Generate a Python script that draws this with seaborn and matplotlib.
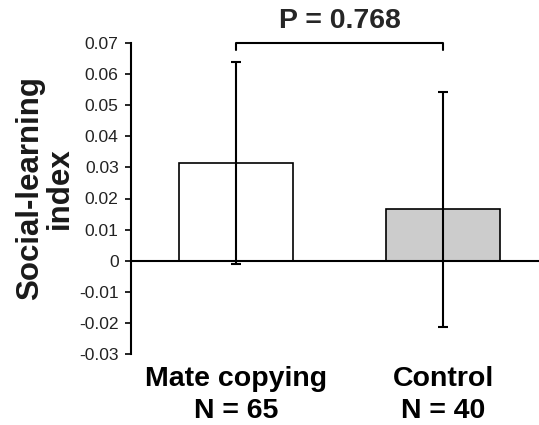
import matplotlib
matplotlib.use("Agg")
import matplotlib.pyplot as plt
import seaborn as sns
import pandas as pd

groups = ["Mate copying\nN = 65", "Control\nN = 40"]
means = [0.0314, 0.0166]
errors = [0.0324, 0.0378]
bar_colors = ["#ffffff", "#cccccc"]
ytick_values = [-0.03, -0.02, -0.01, 0, 0.01, 0.02, 0.03, 0.04, 0.05, 0.06, 0.07]
ytick_labels = ["-0.03", "-0.02", "-0.01", "0", "0.01", "0.02", "0.03", "0.04", "0.05", "0.06", "0.07"]
p_text = "P = 0.768"
ylabel = "Social-learning\nindex"

sns.set_style("white")
plt.rcParams["font.family"] = ["Liberation Sans", "DejaVu Sans"]

df = pd.DataFrame({"group": groups, "mean": means})

fig = plt.figure(figsize=(5.39, 4.25), dpi=100)
ax = fig.add_axes([131 / 539, 1 - 354 / 425, 1 - 131 / 539, (354 - 43) / 425])

sns.barplot(data=df, x="group", y="mean", hue="group", palette=bar_colors,
            edgecolor="black", linewidth=1.2, width=0.55, legend=False, ax=ax,
            errorbar=None)
ax.errorbar(x=range(len(groups)), y=means, yerr=errors, fmt="none",
            ecolor="black", elinewidth=1.5, capsize=3.3, capthick=1.5, zorder=5)

ax.axhline(0, color="black", lw=1.5, zorder=4)

ax.set_ylim(-0.03, 0.07)
ax.set_xlim(-0.507, 1.462)
ax.set_yticks(ytick_values)
ax.set_yticklabels(ytick_labels, fontsize=12.6, color="#222222")
ax.tick_params(axis="y", direction="out", length=4.3, width=1.2, pad=4.6, left=True, color="black")
ax.tick_params(axis="x", length=0, pad=9)
for lab in ax.get_xticklabels():
    lab.set_fontsize(20.5)
    lab.set_fontweight("bold")
    lab.set_color("black")
    lab.set_linespacing(1.27)

for s in ["top", "right", "bottom"]:
    ax.spines[s].set_visible(False)
ax.spines["left"].set_linewidth(1.5)
ax.spines["left"].set_color("black")
ax.set_xlabel("")
ax.set_ylabel("")

# significance bracket
ax.plot([0, 0, 1, 1], [0.0678, 0.07, 0.07, 0.0678], color="black", lw=1.5, clip_on=False)
ax.text(0.5, 0.0770, p_text, ha="center", va="center", fontsize=20.5,
        fontweight="bold", clip_on=False)

fig.text(45 / 539, 1 - 188 / 425, ylabel, rotation=90, ha="center", va="center",
         fontsize=22.5, fontweight="bold", multialignment="center", linespacing=1.0,
         color="#1a1a1a")

fig.savefig("out.png", dpi=100)
